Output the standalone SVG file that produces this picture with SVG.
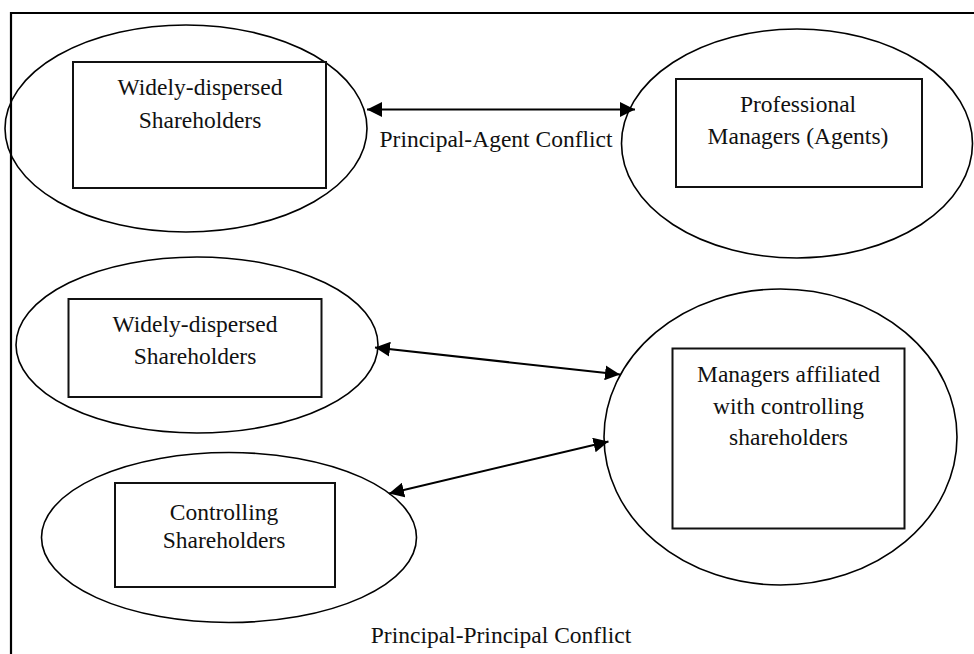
<svg xmlns="http://www.w3.org/2000/svg" width="974" height="654" viewBox="0 0 974 654">
<defs>
<marker id="ah" viewBox="0 0 15 15" refX="15" refY="7.5" markerWidth="15" markerHeight="15" markerUnits="userSpaceOnUse" orient="auto-start-reverse">
<path d="M0,0 L15,7.5 L0,15 Z" fill="#000"/>
</marker>
<style>
.el{fill:none;stroke:#000;stroke-width:1.6}
.bx{fill:none;stroke:#111;stroke-width:2}
.t{font-family:"Liberation Serif","Times New Roman",serif;font-size:23.5px;fill:#111;text-anchor:middle}
.cn{fill:none;stroke:#000;stroke-width:2;marker-start:url(#ah);marker-end:url(#ah)}
</style>
</defs>
<rect width="974" height="654" fill="#fff"/>
<path d="M11,654 V13 H976" fill="none" stroke="#000" stroke-width="2.2"/>
<g id="n1">
<ellipse class="el" cx="186" cy="128.5" rx="181" ry="103.5"/>
<rect class="bx" x="73" y="62" width="253" height="126"/>
<text class="t" x="200" y="95">Widely-dispersed</text>
<text class="t" x="200" y="128">Shareholders</text>
</g>
<g id="n2">
<ellipse class="el" cx="797" cy="143.5" rx="175.5" ry="114.5"/>
<rect class="bx" x="676" y="79" width="246" height="108"/>
<text class="t" x="798" y="112">Professional</text>
<text class="t" x="798" y="143.5">Managers (Agents)</text>
</g>
<g id="n3">
<ellipse class="el" cx="197" cy="345" rx="181" ry="88"/>
<rect class="bx" x="68.5" y="299" width="253" height="98"/>
<text class="t" x="195" y="332">Widely-dispersed</text>
<text class="t" x="195" y="363.5">Shareholders</text>
</g>
<g id="n4">
<ellipse class="el" cx="229" cy="537.5" rx="187.5" ry="85"/>
<rect class="bx" x="115" y="483" width="220" height="104"/>
<text class="t" x="224" y="520">Controlling</text>
<text class="t" x="224" y="548">Shareholders</text>
</g>
<g id="n5">
<ellipse class="el" cx="780.5" cy="437" rx="176.5" ry="148"/>
<rect class="bx" x="672.5" y="348.5" width="232" height="180"/>
<text class="t" x="788.5" y="382">Managers affiliated</text>
<text class="t" x="788.5" y="413.5">with controlling</text>
<text class="t" x="788.5" y="445">shareholders</text>
</g>
<g id="connectors">
<line class="cn" x1="367" y1="109.5" x2="635" y2="109.5"/>
<line class="cn" x1="375" y1="347.5" x2="620" y2="374.5"/>
<line class="cn" x1="389" y1="493.5" x2="608.5" y2="441.5"/>
</g>
<text class="t" x="496" y="147">Principal-Agent Conflict</text>
<text class="t" x="501" y="643">Principal-Principal Conflict</text>
</svg>
